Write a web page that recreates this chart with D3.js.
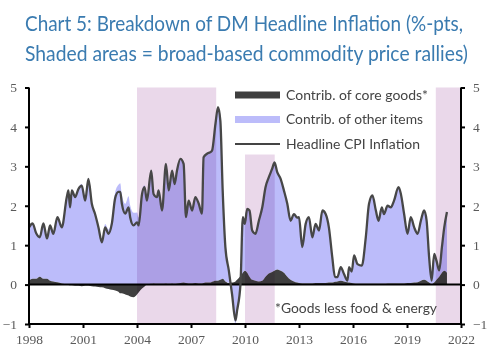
<!DOCTYPE html>
<html><head><meta charset="utf-8">
<script src="https://cdn.jsdelivr.net/npm/d3@7"></script>
<style>body{margin:0;background:#fff}svg{display:block}</style>
</head><body>
<svg id="c" width="500" height="359"></svg>
<script>
const dates = [1998.0,1998.2,1998.4,1998.6,1998.8,1999.0,1999.17,1999.35,1999.58,1999.82,
2000.1,2000.19,2000.28,2000.38,2000.56,2000.75,2000.93,2001.12,2001.3,2001.49,2001.67,2001.86,
2002.05,2002.23,2002.42,2002.6,2002.79,2002.97,2003.07,2003.16,2003.35,2003.53,2003.62,2003.81,
2004.0,2004.09,2004.28,2004.42,2004.55,2004.79,2004.92,2005.11,2005.2,2005.39,2005.61,2005.76,2005.95,
2006.09,2006.22,2006.41,2006.59,2006.72,2006.87,2007.06,2007.24,2007.43,2007.61,2007.7,2007.89,
2008.08,2008.17,2008.36,2008.5,2008.63,2008.76,2008.91,2009.1,2009.28,2009.47,2009.56,2009.75,2009.88,2009.99,
2010.12,2010.25,2010.4,2010.58,2010.77,2010.96,2011.14,2011.32,2011.51,2011.64,2011.79,2011.98,
2012.16,2012.35,2012.53,2012.72,2012.9,2013.0,2013.18,2013.37,2013.55,2013.74,2013.92,
2014.11,2014.3,2014.48,2014.66,2014.85,2015.0,2015.13,2015.32,2015.5,2015.69,2015.78,2015.93,
2016.06,2016.25,2016.49,2016.71,2016.89,2017.08,2017.27,2017.42,2017.6,2017.72,2017.92,
2018.1,2018.28,2018.53,2018.66,2018.84,2019.03,2019.21,2019.4,2019.59,2019.77,2019.95,
2020.09,2020.23,2020.37,2020.51,2020.64,2020.79,2020.94,2021.07,2021.22];

const headline = [1.45,1.55,1.30,1.20,1.55,1.17,1.50,1.29,1.71,1.45,
2.22,2.39,1.96,2.39,2.22,2.43,2.51,2.13,2.68,2.05,1.79,1.45,
1.07,1.45,1.29,1.54,2.20,2.35,2.35,2.05,1.80,1.96,1.71,1.50,
1.58,1.50,2.30,2.47,2.13,2.89,2.30,2.22,2.39,1.88,3.06,2.39,2.89,
2.55,2.89,3.19,3.06,1.71,2.13,1.88,2.22,2.05,1.80,3.23,3.32,
3.36,3.40,4.08,4.50,4.16,2.39,0.95,0.36,-0.24,-0.91,-0.66,0.02,1.71,1.54,
1.92,1.88,1.37,1.29,1.62,1.96,2.47,2.72,2.94,3.10,2.85,2.68,
2.39,2.05,1.62,1.79,1.70,1.71,0.95,1.54,1.71,1.20,1.54,
1.37,1.88,1.79,1.45,0.69,0.19,0.19,0.44,0.27,0.10,0.44,0.33,
0.74,0.52,0.48,1.20,2.05,2.26,1.88,1.62,1.96,1.79,2.00,
1.96,2.13,2.47,2.30,1.79,1.29,1.71,1.45,1.29,1.62,1.88,
1.62,0.69,0.10,0.78,0.60,0.36,0.95,1.45,1.84];

const coreGoods = [0.10,0.15,0.15,0.20,0.15,0.15,0.10,0.08,0.06,0.03,
0.00,-0.01,-0.02,-0.02,-0.03,-0.03,-0.04,-0.03,-0.03,-0.04,-0.05,-0.06,
-0.07,-0.09,-0.11,-0.13,-0.15,-0.18,-0.22,-0.22,-0.25,-0.28,-0.30,-0.32,
-0.25,-0.20,-0.10,-0.05,0.00,0.02,0.03,0.02,0.02,0.02,0.03,0.02,0.03,
0.02,0.03,0.04,0.05,0.04,0.03,0.03,0.04,0.03,0.03,0.04,0.05,
0.05,0.07,0.10,0.10,0.12,0.15,0.08,0.04,0.05,0.08,0.12,0.22,0.30,0.35,
0.30,0.20,0.12,0.10,0.08,0.10,0.20,0.28,0.32,0.35,0.38,0.35,
0.30,0.20,0.12,0.08,0.05,0.04,0.03,0.03,0.03,0.03,0.04,
0.04,0.04,0.04,0.05,0.05,0.07,0.08,0.10,0.08,0.06,0.05,0.04,
0.03,0.02,0.02,0.02,0.02,0.02,0.02,0.02,0.02,0.02,0.03,
0.03,0.03,0.03,0.03,0.03,0.04,0.04,0.05,0.06,0.10,0.12,
0.10,0.05,0.01,0.05,0.12,0.20,0.30,0.35,0.30];

const xTicks = [1998,2001,2004,2007,2010,2013,2016,2019,2022];
const yTicks = [-1,0,1,2,3,4,5];
const rallyStart = [2004.0, 2010.0, 2020.6];
const rallyEnd   = [2008.4, 2011.65, 2022.0];
const rallyTop   = [5, 3.3, 5];
const titleLines = ["Chart 5: Breakdown of DM Headline Inflation (%-pts,",
                    "Shaded areas = broad-based commodity price rallies)"];
const legendLabels = ["Contrib. of core goods*","Contrib. of other items","Headline CPI Inflation"];
const footnote = "*Goods less food & energy";

const svg = d3.select("#c");
const x = d3.scaleLinear().domain([1998,2022]).range([29,461]);
const y = d3.scaleLinear().domain([-1,5]).range([324,87.5]);
const curve = d3.curveMonotoneX;

// title
const tcol = "#3a7bb0";
svg.selectAll("text.title").data(titleLines).enter().append("text")
  .attr("x",25).attr("y",(d,i)=>31+i*30)
  .attr("font-family","Lato, 'Open Sans', sans-serif").attr("font-size",20.5)
  .attr("fill",tcol)
  .attr("textLength",(d,i)=>i===0?438:443).attr("lengthAdjust","spacingAndGlyphs")
  .text(d=>d);

// data rows
const rows = dates.map((t,i)=>{
  const h = headline[i], c = coreGoods[i], o = h - c;
  let p0, p1;
  if (o >= 0) { p0 = Math.max(c,0); p1 = Math.max(c,0) + o; }
  else { p1 = Math.min(c,0); p0 = Math.min(c,0) + o; }
  return {t, h, c, p0, p1};
});

const gPlot = svg.append("g");
gPlot.append("path").datum(rows)
  .attr("d", d3.area().curve(curve).x(d=>x(d.t)).y0(d=>y(d.p0)).y1(d=>y(d.p1)))
  .attr("fill","#bcbcfa");
gPlot.append("path").datum(rows)
  .attr("d", d3.area().curve(curve).x(d=>x(d.t)).y0(y(0)).y1(d=>y(d.c)))
  .attr("fill","#3f3f3f");

// shaded rallies (multiply)
svg.append("g").style("mix-blend-mode","multiply")
  .selectAll("rect").data(rallyStart).enter().append("rect")
  .attr("x",(d)=>x(d)).attr("width",(d,i)=>x(rallyEnd[i])-x(d))
  .attr("y",(d,i)=>y(rallyTop[i])).attr("height",(d,i)=>y(-1)-y(rallyTop[i]))
  .attr("fill","#ead8ea");

// zero line
svg.append("line").attr("x1",x(1998)).attr("x2",x(2022)).attr("y1",y(0)).attr("y2",y(0))
  .attr("stroke","#000").attr("stroke-width",2);

// headline line
svg.append("path").datum(rows)
  .attr("d", d3.line().curve(curve).x(d=>x(d.t)).y(d=>y(d.h)))
  .attr("fill","none").attr("stroke","#474747").attr("stroke-width",2.3).attr("stroke-linejoin","round");

// axes
const fontTick = "'Liberation Serif', serif";
const axL = svg.append("g").attr("transform",`translate(${x(1998)},0)`)
  .call(d3.axisLeft(y).tickValues(yTicks).tickSize(4).tickPadding(8).tickFormat(d3.format("d")));
const axR = svg.append("g").attr("transform",`translate(${x(2022)},0)`)
  .call(d3.axisRight(y).tickValues(yTicks).tickSize(4).tickPadding(8).tickFormat(d3.format("d")));
const axB = svg.append("g").attr("transform",`translate(0,${y(-1)})`)
  .call(d3.axisBottom(x).tickValues(xTicks).tickSize(4).tickPadding(6).tickFormat(d3.format("d")));
[axL,axR,axB].forEach(a=>{
  a.select(".domain").attr("stroke","#000").attr("stroke-width",2);
  a.selectAll(".tick line").attr("stroke","#000").attr("stroke-width",2);
  a.selectAll(".tick text").attr("font-family",fontTick).attr("font-size",13.5).attr("fill","#5a5a5a");
});
axL.select(".domain").attr("d",`M0,${y(5)}V${y(-1)}`);
axR.select(".domain").attr("d",`M0,${y(5)}V${y(-1)}`);
axB.select(".domain").attr("d",`M${x(1998)},0H${x(2022)}`);

// legend
const lg = svg.append("g");
const lx = 235, lys = [95, 119.5, 144];
lg.append("rect").attr("x",lx).attr("y",lys[0]-3.5).attr("width",45).attr("height",7).attr("fill","#3f3f3f");
lg.append("rect").attr("x",lx).attr("y",lys[1]-3.5).attr("width",45).attr("height",7).attr("fill","#bcbcfa");
lg.append("line").attr("x1",lx).attr("x2",lx+45).attr("y1",lys[2]).attr("y2",lys[2]).attr("stroke","#444").attr("stroke-width",2);
const lw = [142,137,134];
lg.selectAll("text").data(legendLabels).enter().append("text")
  .attr("x",286).attr("y",(d,i)=>lys[i]+4.5)
  .attr("font-family","Lato, sans-serif").attr("font-size",12.5).attr("fill","#444")
  .attr("textLength",(d,i)=>lw[i]).attr("lengthAdjust","spacingAndGlyphs")
  .text(d=>d);

svg.append("text").attr("x",275).attr("y",312.5)
  .attr("font-family","Lato, sans-serif").attr("font-size",12.5).attr("fill","#444")
  .attr("textLength",162).attr("lengthAdjust","spacingAndGlyphs").text(footnote);
</script>
</body></html>
